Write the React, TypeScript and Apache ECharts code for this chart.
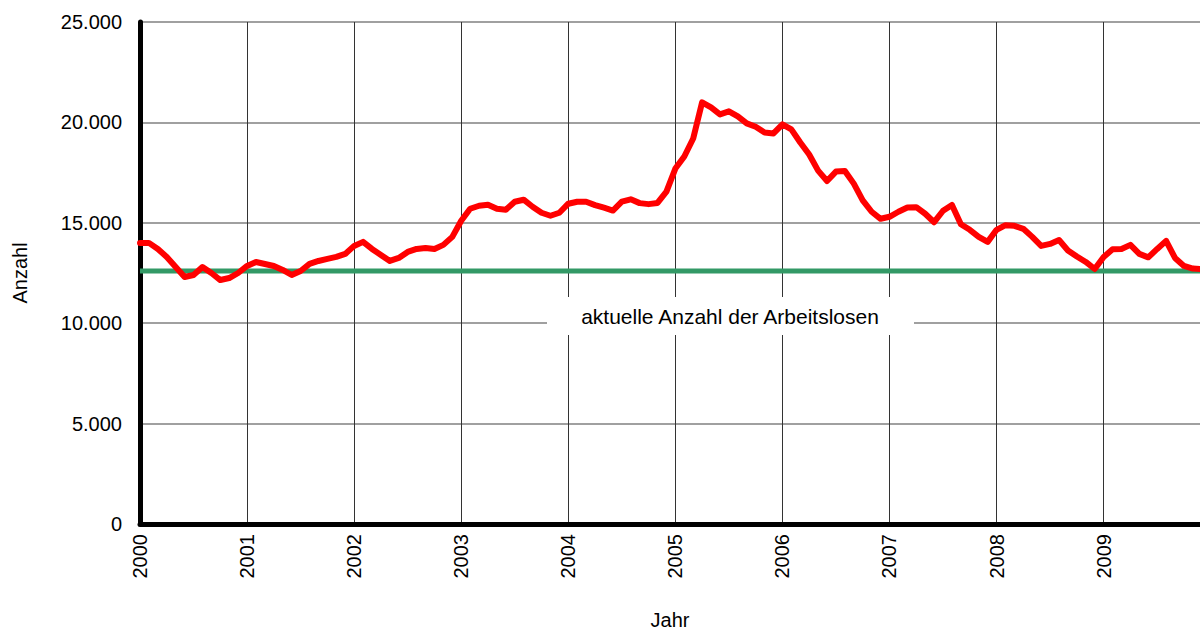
import React, { useEffect, useRef } from "react";
import * as echarts from "echarts";

// Monthly values Jan 2000 – Dec 2009
const year2000 = [14000, 14000, 13700, 13300, 12800, 12300, 12400, 12800, 12500, 12150, 12250, 12500];
const year2001 = [12850, 13050, 12950, 12850, 12650, 12400, 12600, 12950, 13100, 13200, 13300, 13450];
const year2002 = [13850, 14050, 13700, 13400, 13100, 13250, 13550, 13700, 13750, 13700, 13900, 14300];
const year2003 = [15100, 15700, 15850, 15900, 15700, 15650, 16050, 16150, 15800, 15500, 15350, 15500];
const year2004 = [15950, 16050, 16050, 15880, 15750, 15610, 16050, 16170, 15980, 15930, 15990, 16550];
const year2005 = [17700, 18300, 19200, 21000, 20750, 20400, 20550, 20300, 19950, 19780, 19500, 19450];
const year2006 = [19900, 19650, 19000, 18400, 17600, 17080, 17550, 17580, 16950, 16120, 15550, 15200];
const year2007 = [15300, 15550, 15760, 15780, 15450, 15030, 15600, 15890, 14930, 14650, 14300, 14050];
const year2008 = [14650, 14880, 14850, 14700, 14300, 13850, 13950, 14140, 13620, 13320, 13050, 12700];
const year2009 = [13300, 13680, 13700, 13900, 13450, 13280, 13700, 14100, 13250, 12850, 12720, 12700];

const years = [2000, 2001, 2002, 2003, 2004, 2005, 2006, 2007, 2008, 2009];
const yearlyValues = [year2000, year2001, year2002, year2003, year2004, year2005, year2006, year2007, year2008, year2009];

const currentUnemployed = 12600;
const currentLabel = "aktuelle Anzahl der Arbeitslosen";
const xMin = 2000;
const xMax = 2009.9;

const FONT = "'Liberation Sans', Arial, sans-serif";

function fmtDE(v: number): string {
  const s = Math.round(v).toString();
  return s.replace(/\B(?=(\d{3})+(?!\d))/g, ".");
}

export default function App() {
  const ref = useRef<HTMLDivElement>(null);

  useEffect(() => {
    if (!ref.current) return;
    const chart = echarts.init(ref.current, undefined, { renderer: "svg" });

    const lineData: [number, number][] = [];
    years.forEach((y, yi) => {
      yearlyValues[yi].forEach((v, m) => {
        lineData.push([y + m / 12, v]);
      });
    });

    chart.setOption({
      animation: false,
      backgroundColor: "#ffffff",
      textStyle: { fontFamily: FONT },
      grid: { left: 140, right: 0, top: 22, bottom: 105, containLabel: false },
      xAxis: {
        type: "value",
        min: xMin,
        max: xMax,
        interval: 1,
        name: "Jahr",
        nameLocation: "middle",
        nameGap: 86,
        nameTextStyle: { fontSize: 20, color: "#000", fontFamily: FONT },
        axisLine: { show: true, onZero: false, lineStyle: { color: "#000", width: 5, cap: "round" } },
        axisTick: { show: false },
        axisLabel: {
          rotate: 90,
          fontSize: 20,
          color: "#000",
          margin: 10,
          fontFamily: FONT,
          showMaxLabel: false,
          formatter: (v: number) => (Number.isInteger(v) ? String(v) : ""),
        },
        splitLine: { show: true, lineStyle: { color: "#333", width: 1 } },
      },
      yAxis: {
        type: "value",
        min: 0,
        max: 25000,
        interval: 5000,
        name: "Anzahl",
        nameLocation: "middle",
        nameGap: 110,
        nameTextStyle: { fontSize: 20, color: "#000", fontFamily: FONT },
        axisLine: { show: true, lineStyle: { color: "#000", width: 5, cap: "round" } },
        axisTick: { show: false },
        axisLabel: {
          fontSize: 20,
          color: "#000",
          margin: 18,
          fontFamily: FONT,
          formatter: (v: number) => fmtDE(v),
        },
        splitLine: { show: true, lineStyle: { color: "#808080", width: 1.5 } },
      },
      series: [
        {
          type: "line",
          data: [
            [xMin, currentUnemployed],
            [xMax, currentUnemployed],
          ],
          symbol: "none",
          lineStyle: { color: "#339966", width: 5 },
          z: 3,
        },
        {
          type: "line",
          data: lineData,
          symbol: "none",
          smooth: false,
          lineStyle: { color: "#ff0000", width: 6, join: "round", cap: "round" },
          z: 4,
        },
      ],
      graphic: [
        {
          type: "rect",
          z: 10,
          shape: { x: 547, y: 297, width: 367, height: 38 },
          style: { fill: "#ffffff" },
        },
        {
          type: "text",
          z: 11,
          x: 730,
          y: 316,
          style: {
            text: currentLabel,
            fontSize: 21,
            fontFamily: FONT,
            fill: "#000",
            align: "center",
            verticalAlign: "middle",
          },
        },
      ],
    });

    return () => chart.dispose();
  }, []);

  return (
    <div
      ref={ref}
      style={{ position: "absolute", left: 0, top: 0, width: 1200, height: 635 }}
    />
  );
}
